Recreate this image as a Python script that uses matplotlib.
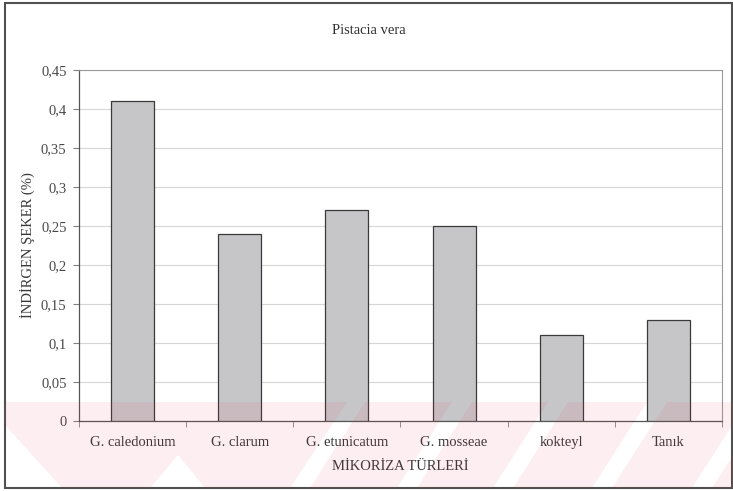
import matplotlib
matplotlib.use("Agg")
import matplotlib.pyplot as plt
from matplotlib.patches import Rectangle, Polygon
from matplotlib.ticker import FuncFormatter

# Data
species = ["G. caledonium", "G. clarum", "G. etunicatum", "G. mosseae", "kokteyl", "Tanık"]
sugar = [0.41, 0.24, 0.27, 0.25, 0.11, 0.13]
yticks = [0, 0.05, 0.1, 0.15, 0.2, 0.25, 0.3, 0.35, 0.4, 0.45]

plt.rcParams["font.family"] = ["Liberation Serif", "DejaVu Serif"]

W, H = 733, 491
fig = plt.figure(figsize=(W / 100, H / 100), dpi=100)
fig.patch.set_facecolor("white")

def px(x, y):
    return x / W, 1 - y / H

# Outer chart frame
x0, y0 = px(5, 488)
x1, y1 = px(732, 3)
fig.add_artist(Rectangle((x0, y0), x1 - x0, y1 - y0, transform=fig.transFigure,
                         fill=False, edgecolor="#505050", linewidth=1.5, zorder=0))

left, top, right, bottom = 79, 70, 722, 421
ax = fig.add_axes([left / W, 1 - bottom / H, (right - left) / W, (bottom - top) / H])

xs = range(len(species))
ax.bar(xs, sugar, width=0.40, color="#c6c6c8", edgecolor="#3a3a3a", linewidth=0.9, zorder=3)

ax.set_xlim(-0.5, len(species) - 0.5)
ax.set_ylim(0, 0.45)
ax.set_yticks(yticks)
ax.yaxis.set_major_formatter(FuncFormatter(lambda v, p: ("%g" % round(v, 2)).replace(".", ",")))
ax.yaxis.grid(True, color="#d6d6d6", linewidth=0.8, zorder=0)
ax.set_axisbelow(True)

# Category labels centred, tick marks at the category boundaries
ax.set_xticks(list(xs))
ax.set_xticklabels(species)
ax.set_xticks([i + 0.5 for i in range(-1, len(species))], minor=True)
ax.tick_params(axis="x", which="major", length=0, pad=11, labelsize=10.5, labelcolor="#383838")
ax.tick_params(axis="x", which="minor", length=4, color="#808080", direction="out")
ax.tick_params(axis="y", length=4, color="#808080", pad=5, labelsize=10.5, labelcolor="#484848")

for s in ("top", "right"):
    ax.spines[s].set_color("#9a9a9a")
    ax.spines[s].set_linewidth(0.8)
for s in ("left", "bottom"):
    ax.spines[s].set_color("#555555")
    ax.spines[s].set_linewidth(0.9)

ax.set_xlabel("MİKORİZA TÜRLERİ", fontsize=10.5, color="#383838", labelpad=8)
ax.set_ylabel("İNDİRGEN ŞEKER (%)", fontsize=10.5, color="#383838", labelpad=4)

fig.text(369 / W, 1 - 30 / H, "Pistacia vera", ha="center", va="center",
         fontsize=10.5, color="#303030")

# Faint pink diagonal stripes across the lower band
pink = (0.90, 0.22, 0.30)
band_top, band_bot = 402, 488
shapes = [
    [(5, band_top), (347, band_top), (290, band_bot), (205, band_bot), (178, 455),
     (150, band_bot), (62, band_bot), (5, 425)],
]
for b0, b1 in [(310, 397), (417, 493), (513, 592), (612, 692), (712, 760)]:
    shapes.append([(b0, band_bot), (b1, band_bot), (b1 + 55, band_top), (b0 + 55, band_top)])
for pts in shapes:
    fig.add_artist(Polygon([px(x, y) for x, y in pts], closed=True, transform=fig.transFigure,
                           facecolor=pink, edgecolor="none", alpha=0.08, zorder=10))

fig.savefig("out.png", dpi=100)
